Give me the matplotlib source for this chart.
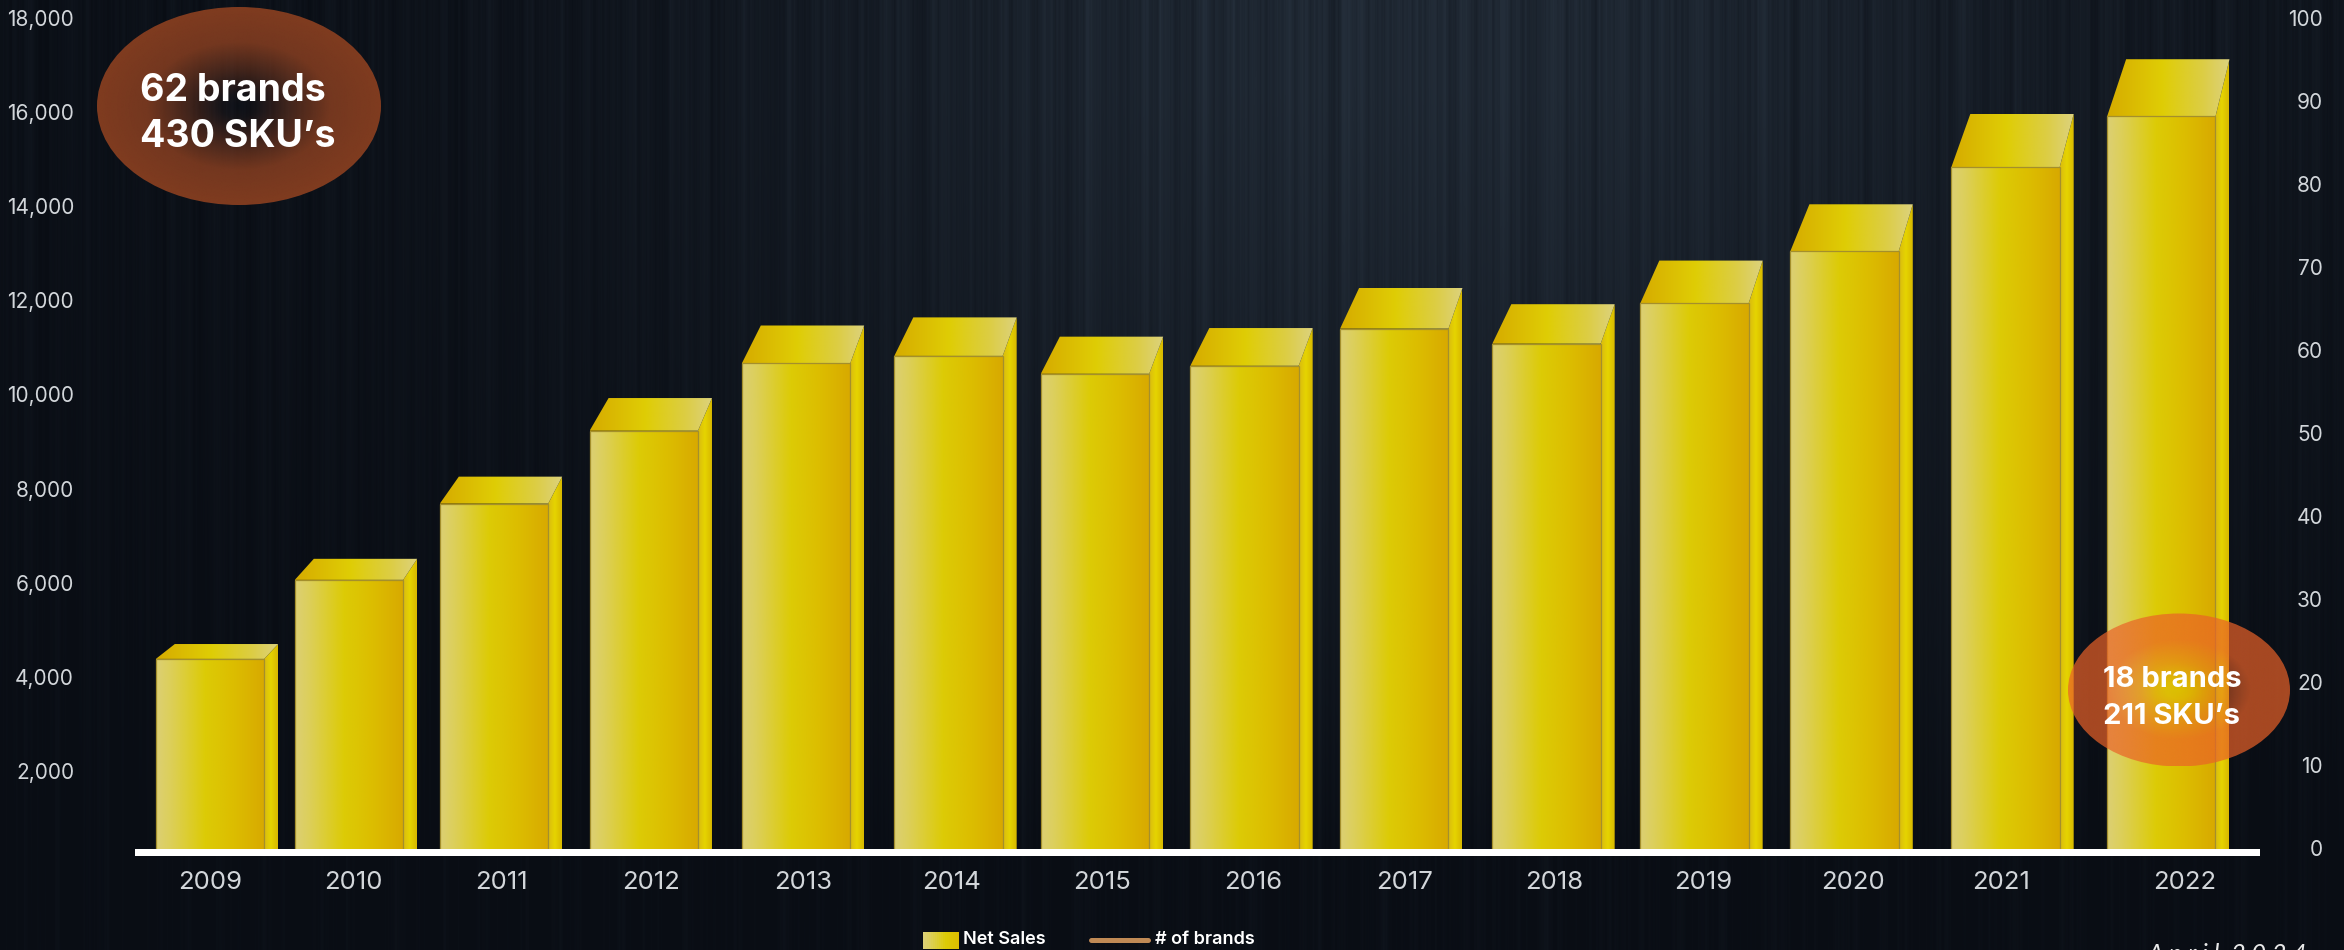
import numpy as np
import matplotlib
matplotlib.use("Agg")
import matplotlib.pyplot as plt
from matplotlib.colors import LinearSegmentedColormap, to_rgb
from matplotlib.legend_handler import HandlerBase
from matplotlib.lines import Line2D
from matplotlib.patches import Ellipse, Patch, Polygon, Rectangle

# Net sales per year and where each bar and label sit relative to its year
years = [2009, 2010, 2011, 2012, 2013, 2014, 2015, 2016, 2017, 2018, 2019, 2020, 2021, 2022]
net_sales = [4380, 6060, 7680, 9230, 10660, 10820, 10440, 10610, 11400, 11080, 11940, 13050, 14830, 15910]
bar_shift = [0, -.074, -.108, -.11, -.096, -.08, -.104, -.108, -.11, -.096, -.11, -.11, -.038, 0]
label_shift = [0, -.044, -.058, -.062, -.046, -.06, -.054, -.048, -.042, -.046, -.05, -.054, -.07, .157]
sales_ticks = list(range(2000, 18001, 2000))
brand_ticks = list(range(0, 101, 10))

W, H = 2344, 950
DPI = 100
SANS = "Inter"
PT = 72 / DPI  # points per output pixel

plt.rcParams["font.family"] = [SANS, "DejaVu Sans"]

fig = plt.figure(figsize=(W / DPI, H / DPI), dpi=DPI, facecolor="#0a0e15")


def px_rect(x0, y0, x1, y1):
    """Axes rectangle from pixel corners, y measured from the top."""
    return [x0 / W, 1 - y1 / H, (x1 - x0) / W, (y1 - y0) / H]


# Brushed-metal backdrop: a soft glow near the top with vertical streaks over it
bg = fig.add_axes([0, 0, 1, 1], zorder=0)
bg.axis("off")
xx = np.arange(W, dtype=float)
yy = np.arange(H, dtype=float)
streak_a = np.zeros(W)
streak_b = np.zeros(W)
periods = [2.3, 3.1, 4.3, 5.7, 6.1, 7.3, 9.1, 11.9, 14.3, 17.7, 19.9, 23.1, 29.3, 37.9, 51.1, 67.3]
for k, period in enumerate(periods):
    streak_a += np.sin(2 * np.pi * xx / period + k * 1.7) * (1 + k * 0.06)
    streak_b += np.sin(2 * np.pi * xx / (period * 1.13) + k * 2.9) * (1 + k * 0.06)
streak_a /= streak_a.std()
streak_b /= streak_b.std()
mix = (yy / H)[:, None]
streaks = streak_a[None, :] * (1 - mix) + streak_b[None, :] * mix
reach = np.where(xx < 1400, 640.0, 720.0)
across = 0.12 + 0.88 * np.exp(-((xx - 1400) / reach) ** 2)
down = np.clip(1.05 - (yy / 860) ** 1.3, 0.05, 1)
glow = across[None, :] * down[:, None]
level = np.clip(glow + streaks * (0.05 + 0.07 * glow), 0, 1.2)[..., None]
dark = np.array(to_rgb("#090d14"))
light = np.array(to_rgb("#1f2833"))
bg.imshow(np.clip(dark + (light - dark) * level, 0, 1), extent=(0, W, H, 0), aspect="auto", interpolation="bilinear")

# Main axes: sales on the left, brands on the right, both with their own zero
ax = fig.add_axes(px_rect(82, 0, 2310, 865), zorder=1)
ax.patch.set_visible(False)
YEAR_PX = 150.1
ax.set_xlim(2009 - (210 - 82) / YEAR_PX, 2009 + (2310 - 210) / YEAR_PX)
ax.set_ylim(0, 865 / 94.1 * 2000)
ax2 = ax.twinx()
ax2.patch.set_visible(False)
ax2.set_ylim(-(865 - 848) / 8.3, 848 / 8.3)

BASE = 320          # bars rest on the floor line, a little above the axis origin
BAR_W = 0.722
DEPTH_L = 19 / YEAR_PX
DEPTH_R = 14 / YEAR_PX
RISE = 0.078        # perspective lift of the back edge per unit of bar height

front_cmap = LinearSegmentedColormap.from_list(
    "front", [(0, "#dcd074"), (.14, "#dccf58"), (.45, "#dccb06"), (.72, "#dcbd00"), (1, "#d8a900")])
top_cmap = LinearSegmentedColormap.from_list(
    "top", [(0, "#d6ab00"), (.45, "#dfcd05"), (.78, "#dccd44"), (1, "#ddd27e")])
side_cmap = LinearSegmentedColormap.from_list(
    "side", [(0, "#d9bb10"), (.5, "#e6d400"), (1, "#d8b800")])
ramp = np.linspace(0, 1, 256)[None, :]


def fill_gradient(axes, patch, cmap, extent, zorder):
    im = axes.imshow(ramp, cmap=cmap, extent=extent, aspect="auto", zorder=zorder, interpolation="bilinear")
    im.set_clip_path(patch)


centers = [y + s for y, s in zip(years, bar_shift)]
heights = [v - BASE for v in net_sales]
bars = ax.bar(centers, heights, BAR_W, bottom=BASE, facecolor="none", edgecolor="#a48f2c", linewidth=0.9, zorder=3)
for c, v, h, bar in zip(centers, net_sales, heights, bars):
    left, right = c - BAR_W / 2, c + BAR_W / 2
    back = v + RISE * h
    top = Polygon([(left, v), (right, v), (right + DEPTH_R, back), (left + DEPTH_L, back)],
                  closed=True, facecolor="none", edgecolor="none", zorder=2)
    side = Polygon([(right, BASE), (right + DEPTH_R, BASE), (right + DEPTH_R, back), (right, v)],
                   closed=True, facecolor="none", edgecolor="none", zorder=2)
    ax.add_patch(top)
    ax.add_patch(side)
    fill_gradient(ax, side, side_cmap, (right, right + DEPTH_R, BASE, back), 1.5)
    fill_gradient(ax, top, top_cmap, (left, right + DEPTH_R, v, back), 1.6)
    fill_gradient(ax, bar, front_cmap, (left, right, BASE, v), 2)

ax.set_xlim(2009 - (210 - 82) / YEAR_PX, 2009 + (2310 - 210) / YEAR_PX)
ax.set_ylim(0, 865 / 94.1 * 2000)

for spine in list(ax.spines.values()) + list(ax2.spines.values()):
    spine.set_visible(False)

TICK = "#d2d6da"
ax.set_xticks([y + s for y, s in zip(years, label_shift)], [str(y) for y in years])
ax.tick_params(axis="x", length=0, labelsize=18.5, labelcolor=TICK, pad=4)
ax.set_yticks(sales_ticks, [f"{t:,}" for t in sales_ticks])
ax.tick_params(axis="y", length=0, labelsize=15, labelcolor=TICK, pad=8 * PT)
ax2.set_yticks(brand_ticks, [str(t) for t in brand_ticks])
ax2.tick_params(axis="y", length=0, labelsize=15, labelcolor=TICK, pad=13 * PT)
for lab in ax2.get_yticklabels():
    lab.set_horizontalalignment("right")


# Legend keys with widths of their own inside the shared handle slot
class GradientKey(HandlerBase):
    def create_artists(self, legend, orig, xd, yd, width, height, fontsize, trans):
        key_w = 36 * PT
        key_h = 17 * PT
        x0 = width - key_w - xd
        y0 = -yd + height / 2 - key_h / 2 - 1.5
        parts = []
        for i, t in enumerate(np.linspace(0, .7, 18)):
            parts.append(Rectangle((x0 + i * key_w / 18, y0), key_w / 18 + .3, key_h,
                                   facecolor=front_cmap(t), edgecolor="none", transform=trans))
        return parts


class RoundKey(HandlerBase):
    def create_artists(self, legend, orig, xd, yd, width, height, fontsize, trans):
        y = -yd + height / 2 - 1
        return [Line2D([width - 60 * PT - xd, width - 3 * PT - xd], [y, y], color=orig.get_color(),
                       linewidth=5 * PT, solid_capstyle="round", transform=trans)]


sales_key = Patch(label="Net Sales")
brands_key = Line2D([], [], color="#c08a55", label="# of brands")
legend = ax.legend(handles=[sales_key, brands_key], handler_map={sales_key: GradientKey(), brands_key: RoundKey()},
                   loc="lower left", bbox_to_anchor=(895 / W, 1 - 948.5 / H), bbox_transform=fig.transFigure,
                   ncols=2, frameon=False, borderpad=0, borderaxespad=0, handlelength=64 * PT / 13,
                   handletextpad=4 * PT / 13, columnspacing=41 * PT / 13, labelcolor="white",
                   prop={"family": SANS, "size": 13, "weight": "semibold"})

# Pixel-space layer for the floor line, call-outs and the date stamp
over = fig.add_axes([0, 0, 1, 1], zorder=3)
over.set_xlim(0, W)
over.set_ylim(H, 0)
over.axis("off")
over.add_patch(Rectangle((135, 849), 2260 - 135, 7, facecolor="white", edgecolor="none"))


def callout(cx, cy, w, h, rgb, rim_alpha, lines, size, x_text, baselines, stops):
    a, b = w / 2, h / 2
    gx, gy = np.meshgrid(np.linspace(-1, 1, 500), np.linspace(-1, 1, 400))
    r = np.hypot(gx, gy)
    alpha = np.interp(r, [0, .12, .35, .65, 1], stops) * rim_alpha
    rgba = np.zeros(r.shape + (4,))
    rgba[..., :3] = np.array(rgb) / 255
    rgba[..., 3] = alpha
    im = over.imshow(rgba, extent=(cx - a, cx + a, cy + b, cy - b), aspect="auto", zorder=2)
    shape = Ellipse((cx, cy), w, h, facecolor="none", edgecolor="none")
    over.add_patch(shape)
    im.set_clip_path(shape)
    for text, yb in zip(lines, baselines):
        over.text(x_text, yb, text, color="white", fontsize=size, fontweight="bold", va="baseline", ha="left", zorder=3)


callout(239, 106, 284, 198, (128, 60, 32), 1.0, ["62 brands", "430 SKU’s"], 27, 140, [101, 147],
        [.02, .08, .45, .9, 1])
callout(2179, 690, 222, 153, (235, 98, 40), 0.7, ["18 brands", "211 SKU’s"], 21, 2103, [687, 724],
        [.02, .12, .6, 1, 1])

over.text(2148, 962, "A p r i l  2 0 2 4", color="#e8e8e8", fontsize=18, fontstyle="italic",
          family="Lato", va="baseline", ha="left", zorder=3)
over.set_xlim(0, W)
over.set_ylim(H, 0)

fig.savefig("out.png", dpi=DPI, facecolor=fig.get_facecolor())
